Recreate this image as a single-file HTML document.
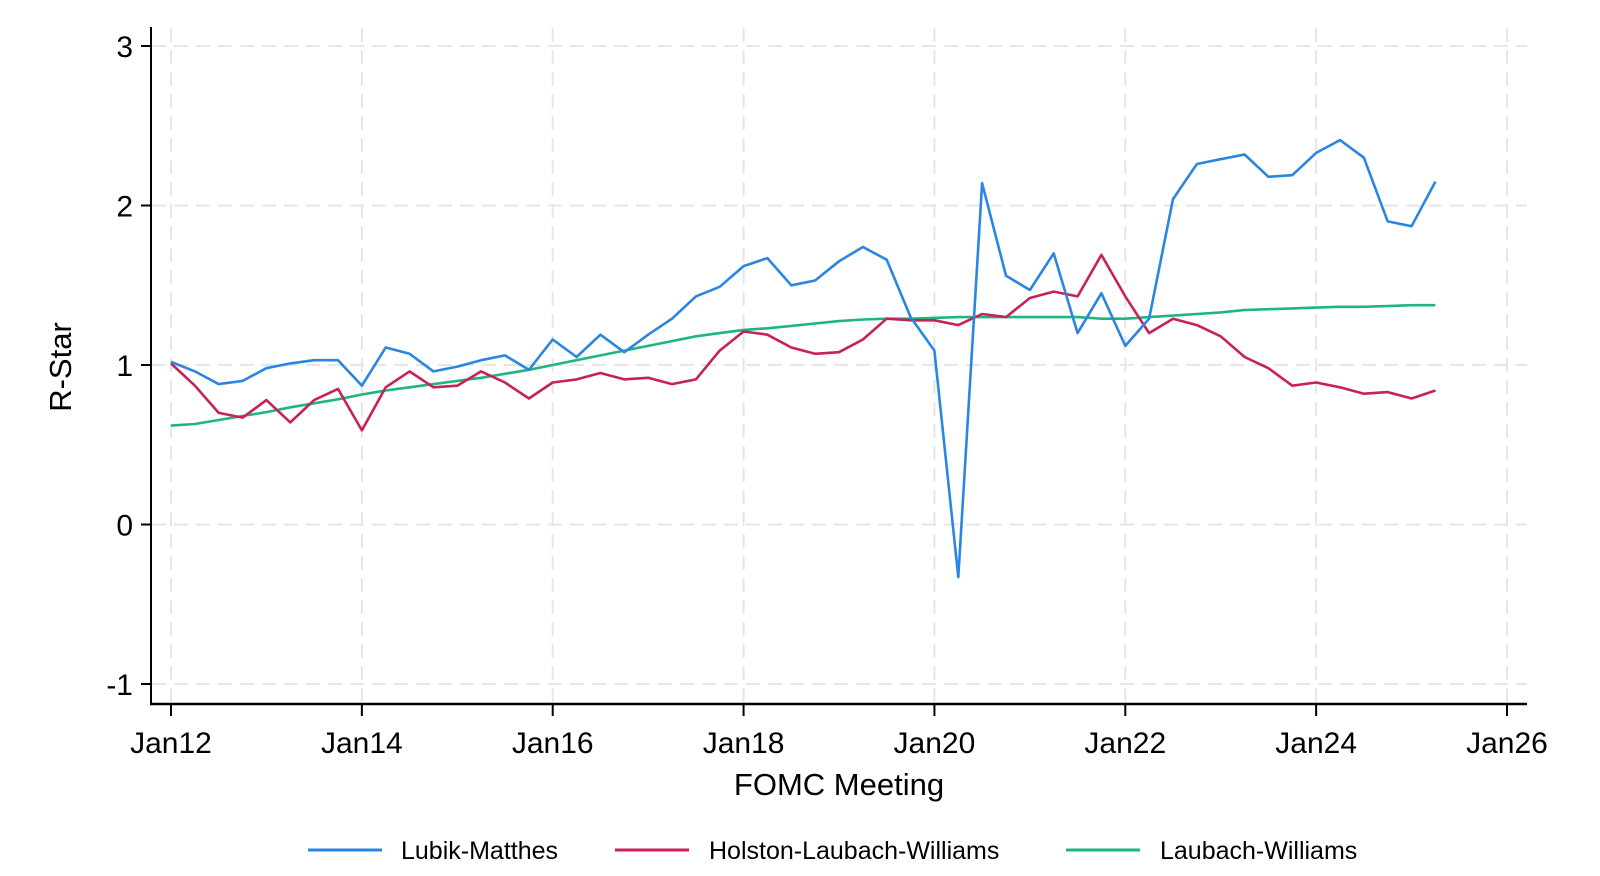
<!DOCTYPE html>
<html><head><meta charset="utf-8"><style>
html,body{margin:0;padding:0;background:#fff;}
svg{display:block;font-family:"Liberation Sans",Arial,sans-serif;}
</style></head><body>
<svg id="chart" width="1600" height="876" viewBox="0 0 1600 876" xmlns="http://www.w3.org/2000/svg">
<g id="grid"></g>
<g id="axes"></g>
<g id="series"></g>
<text x="0" y="0" transform="translate(71,367) rotate(-90)" text-anchor="middle" font-size="31" fill="#000">R-Star</text>
<text x="839" y="795" text-anchor="middle" font-size="31" fill="#000">FOMC Meeting</text>
<g>
 <g><line x1="308" y1="850" x2="382" y2="850" stroke="#2a86e0" stroke-width="3"/><text x="401" y="859" font-size="25">Lubik-Matthes</text></g>
 <g><line x1="615" y1="850" x2="689" y2="850" stroke="#c8215a" stroke-width="3"/><text x="709" y="859" font-size="25">Holston-Laubach-Williams</text></g>
 <g><line x1="1066" y1="850" x2="1140" y2="850" stroke="#1fb67c" stroke-width="3"/><text x="1160" y="859" font-size="25">Laubach-Williams</text></g>
</g>
</svg>
<script>
const startYear = 2012;
const xTickLabels = ["Jan12","Jan14","Jan16","Jan18","Jan20","Jan22","Jan24","Jan26"];
const xTickYears = [2012,2014,2016,2018,2020,2022,2024,2026];
const yTickValues = [-1,0,1,2,3];
const lubikMatthes = [1.02,0.96,0.88,0.90,0.98,1.01,1.03,1.03,0.87,1.11,1.07,0.96,0.99,1.03,1.06,0.97,1.16,1.05,1.19,1.08,1.19,1.29,1.43,1.49,1.62,1.67,1.50,1.53,1.65,1.74,1.66,1.30,1.09,-0.33,2.14,1.56,1.47,1.70,1.20,1.45,1.12,1.29,2.04,2.26,2.29,2.32,2.18,2.19,2.33,2.41,2.30,1.90,1.87,2.15];
const holstonLaubachWilliams = [1.01,0.87,0.70,0.67,0.78,0.64,0.78,0.85,0.59,0.86,0.96,0.86,0.87,0.96,0.89,0.79,0.89,0.91,0.95,0.91,0.92,0.88,0.91,1.09,1.21,1.19,1.11,1.07,1.08,1.16,1.29,1.28,1.28,1.25,1.32,1.30,1.42,1.46,1.43,1.69,1.43,1.20,1.29,1.25,1.18,1.05,0.98,0.87,0.89,0.86,0.82,0.83,0.79,0.84];
const laubachWilliams = [0.62,0.63,0.655,0.68,0.705,0.735,0.76,0.785,0.815,0.84,0.86,0.88,0.90,0.92,0.945,0.97,1.0,1.03,1.06,1.09,1.12,1.15,1.18,1.20,1.22,1.23,1.245,1.26,1.275,1.285,1.29,1.29,1.295,1.30,1.30,1.30,1.30,1.30,1.30,1.29,1.29,1.30,1.31,1.32,1.33,1.345,1.35,1.355,1.36,1.365,1.365,1.37,1.375,1.375];

const NS="http://www.w3.org/2000/svg";
const X0=171, X1=1507, Y0=524.5, PERUNIT=159.5;
function xScale(year){return X0+(year-2012)*(X1-X0)/14;}
function yScale(v){return Y0-v*PERUNIT;}
function mk(tag,attrs,parent){const e=document.createElementNS(NS,tag);for(const k in attrs)e.setAttribute(k,attrs[k]);parent.appendChild(e);return e;}
const grid=document.getElementById('grid'), axes=document.getElementById('axes'), series=document.getElementById('series');
yTickValues.forEach(v=>{
  const y=yScale(v);
  const g=mk('line',{x1:152,x2:1527,y1:y,y2:y,stroke:'#e6e6e6','stroke-width':2,'stroke-dasharray':'14,8'},grid);
  
  
  const t=mk('line',{x1:141,x2:151,y1:y,y2:y,stroke:'#000','stroke-width':2},axes);
  
  
  const l=mk('text',{x:133,y:y+11,'text-anchor':'end','font-size':30},axes);
  l.textContent=String(v);
  
  
});
xTickYears.forEach((yr,i)=>{
  const x=xScale(yr);
  const g=mk('line',{x1:x,x2:x,y1:28,y2:703,stroke:'#e6e6e6','stroke-width':2,'stroke-dasharray':'14,8'},grid);
  
  
  const t=mk('line',{x1:x,x2:x,y1:704,y2:716,stroke:'#000','stroke-width':2},axes);
  
  
  const l=mk('text',{x:x,y:753,'text-anchor':'middle','font-size':30},axes);
  l.textContent=xTickLabels[i];
  
  
});
const ya=mk('line',{x1:151,x2:151,y1:27,y2:705,stroke:'#000','stroke-width':2},axes);


const xa=mk('line',{x1:150,x2:1527,y1:704,y2:704,stroke:'#000','stroke-width':2.5},axes);


function draw(arr,color,name){
  const pts=arr.map((v,i)=>xScale(startYear+i*0.25).toFixed(1)+','+yScale(v).toFixed(1)).join(' ');
  const p=mk('polyline',{points:pts,fill:'none',stroke:color,'stroke-width':2.6,'stroke-linejoin':'round'},series);
  
  
}
draw(laubachWilliams,'#1fb67c','laubach-williams-line');
draw(holstonLaubachWilliams,'#c8215a','holston-laubach-williams-line');
draw(lubikMatthes,'#2a86e0','lubik-matthes-line');
</script>
</body></html>
